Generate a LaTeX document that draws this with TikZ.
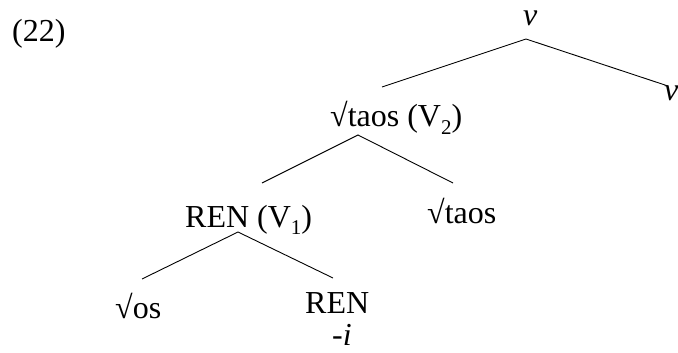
\documentclass[tikz,border=0pt]{standalone}
\usepackage{fontspec}
\setmainfont{Liberation Serif}
\newcommand{\mysub}[1]{\raisebox{-0.22em}{\fontsize{21}{21}\selectfont #1}}
\begin{document}
\begin{tikzpicture}[x=1pt,y=-1pt,
  lbl/.style={inner sep=0pt, anchor=base west, font=\fontsize{32}{38}\selectfont},
  branch/.style={line width=0.9pt, black}]
\useasboundingbox (0,0) rectangle (678,353);
% labels
\node[lbl] (ex) at (12,42) {(22)};
\node[lbl] (vtop) at (523,26) {\textit{v}};
\node[lbl] (vright) at (664,100) {\textit{v}};
\node[lbl] (taosV) at (330,127) {√taos (V\mysub{2})};
\node[lbl] (renV) at (185,227) {REN (V\mysub{1})};
\node[lbl] (taos) at (427,223) {√taos};
\node[lbl] (os) at (115,318) {√os};
\node[lbl] (ren) at (305,313) {REN};
\node[lbl, anchor=base] (i) at (342,345) {-\textit{i}};
% branch points
\coordinate (a1) at (526,39);
\coordinate (l1) at (382,87);
\coordinate (r1) at (668,86);
\coordinate (a2) at (358,135);
\coordinate (l2) at (262,183);
\coordinate (r2) at (453,183);
\coordinate (a3) at (238,232);
\coordinate (l3) at (142,279);
\coordinate (r3) at (333,278);
\draw[branch] (l1) -- (a1) -- (r1);
\draw[branch] (l2) -- (a2) -- (r2);
\draw[branch] (l3) -- (a3) -- (r3);
\end{tikzpicture}
\end{document}
